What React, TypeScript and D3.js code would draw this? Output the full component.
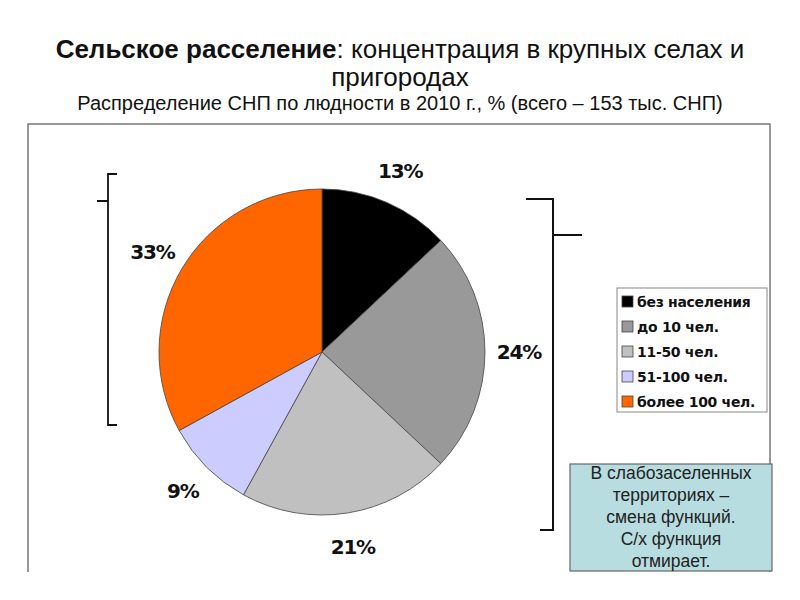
import React from 'react';
import * as d3 from 'd3';

// shares of rural settlements by population size, 2010, %
const categories = ['без населения', 'до 10 чел.', '11-50 чел.', '51-100 чел.', 'более 100 чел.'];
const shares = [13, 24, 21, 9, 33];
const colors = ['#000000', '#999999', '#c0c0c0', '#ccccff', '#ff6600'];
const noteLines = ['В слабозаселенных', 'территориях –', 'смена функций.', 'С/х функция', 'отмирает.'];

const W = 800;
const H = 600;
const cx = 322;
const cy = 352;
const radius = 163;
const labelRadius = 197;

const App = () => {
    const pie = d3.pie<number>().sort(null).value(d => d)(shares);
    const arc = d3.arc<d3.PieArcDatum<number>>().innerRadius(0).outerRadius(radius);
    const labelArc = d3.arc<d3.PieArcDatum<number>>().innerRadius(labelRadius).outerRadius(labelRadius);

    const legendY = d3.scaleBand().domain(categories).range([289, 414]);

    return (
        <svg width={W} height={H} style={{ position: 'absolute', left: 0, top: 0, background: '#fff' }}>
            {/* title */}
            <text x={W / 2} y={58} textAnchor="middle" fontFamily="Liberation Sans, Arial, sans-serif" fontSize={26} fill="#111">
                <tspan fontWeight="bold">Сельское расселение</tspan>: концентрация в крупных селах и
            </text>
            <text x={W / 2} y={86} textAnchor="middle" fontFamily="Liberation Sans, Arial, sans-serif" fontSize={26} fill="#111">
                пригородах
            </text>
            <text x={W / 2} y={110} textAnchor="middle" fontFamily="Liberation Sans, Arial, sans-serif" fontSize={20} fill="#111">
                Распределение СНП по людности в 2010 г., % (всего – 153 тыс. СНП)
            </text>

            {/* frame, open at the bottom */}
            <path d="M28,572 L28,124 L770,124 L770,572" fill="none" stroke="#777" strokeWidth={1.5} />

            {/* pie */}
            <g transform={`translate(${cx},${cy})`}>
                {pie.map((d, i) => (
                    <path key={i} d={arc(d) || ''} fill={colors[i]} stroke="#444" strokeWidth={0.8} />
                ))}
                {pie.map((d, i) => {
                    const [x, y] = labelArc.centroid(d);
                    return (
                        <text key={'l' + i} x={x} y={y} textAnchor="middle" dominantBaseline="central"
                            fontFamily="DejaVu Sans, Verdana, sans-serif" fontWeight="bold" fontSize={20}
                            letterSpacing={-1.2} fill="#111">
                            {d.data + '%'}
                        </text>
                    );
                })}
            </g>

            {/* brackets */}
            <path d="M117,174 L108,174 L108,425 L117,425 M108,201 L97,201" fill="none" stroke="#111" strokeWidth={1.8} />
            <path d="M526,199 L553,199 L553,530 L540,530 M553,235 L582,235" fill="none" stroke="#111" strokeWidth={2} />

            {/* legend */}
            <rect x={617} y={288} width={150} height={124} fill="#fff" stroke="#888" strokeWidth={1} />
            {categories.map((c, i) => {
                const y = (legendY(c) || 0) + legendY.bandwidth() / 2;
                return (
                    <g key={c}>
                        <rect x={622} y={y - 5.5} width={11} height={11} fill={colors[i]} stroke="#444" strokeWidth={0.8} />
                        <text x={637} y={y} dominantBaseline="central" fontFamily="DejaVu Sans, Verdana, sans-serif"
                            fontWeight="bold" fontSize={14} letterSpacing={-0.3} fill="#111">
                            {c}
                        </text>
                    </g>
                );
            })}

            {/* note box */}
            <rect x={570} y={464} width={202} height={107} fill="#b8dde1" stroke="#666" strokeWidth={1.2} />
            {noteLines.map((t, i) => (
                <text key={t} x={671} y={479 + i * 22} textAnchor="middle" fontFamily="Liberation Sans, Arial, sans-serif"
                    fontSize={17.5} fill="#222">
                    {t}
                </text>
            ))}
        </svg>
    );
};

export default App;
